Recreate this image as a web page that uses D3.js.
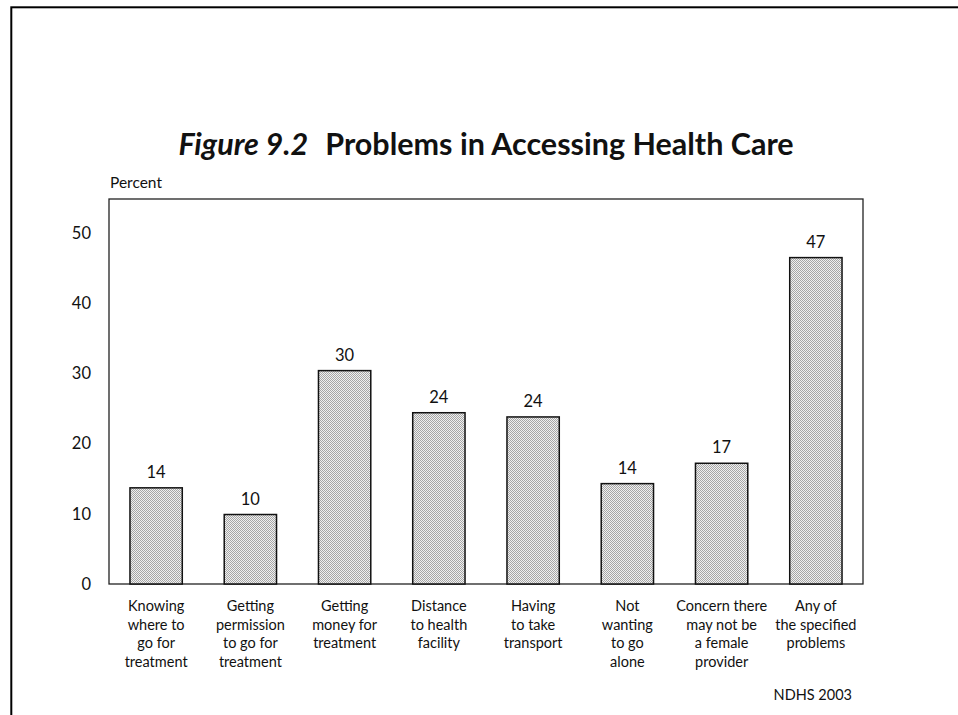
<!DOCTYPE html>
<html>
<head>
<meta charset="utf-8">
<script src="https://cdn.jsdelivr.net/npm/d3@7"></script>
<style>
  html, body { margin: 0; padding: 0; background: #fff; }
  svg { display: block; }
  text { font-family: Lato, "Open Sans", sans-serif; fill: #111; }
</style>
</head>
<body>
<svg id="chart" width="958" height="715"></svg>
<script>
const categories = [
  ["Knowing", "where to", "go for", "treatment"],
  ["Getting", "permission", "to go for", "treatment"],
  ["Getting", "money for", "treatment"],
  ["Distance", "to health", "facility"],
  ["Having", "to take", "transport"],
  ["Not", "wanting", "to go", "alone"],
  ["Concern there", "may not be", "a female", "provider"],
  ["Any of", "the specified", "problems"]
];
const values = [13.7, 9.9, 30.4, 24.4, 23.8, 14.3, 17.2, 46.5];
const valueLabels = ["14", "10", "30", "24", "24", "14", "17", "47"];
const yTicks = [0, 10, 20, 30, 40, 50];

const svg = d3.select("#chart");

// halftone pattern
const defs = svg.append("defs");
const pat = defs.append("pattern").attr("id", "dots")
  .attr("width", 2).attr("height", 2).attr("patternUnits", "userSpaceOnUse");
pat.append("rect").attr("width", 2).attr("height", 2).attr("fill", "#f0f0f0");
pat.append("rect").attr("x", 0).attr("y", 0).attr("width", 1).attr("height", 1).attr("fill", "#a6a6a6");
pat.append("rect").attr("x", 1).attr("y", 1).attr("width", 1).attr("height", 1).attr("fill", "#a6a6a6");

// outer frame
svg.append("rect").attr("x", 11.3).attr("y", 7.3).attr("width", 960).attr("height", 720)
  .attr("fill", "none").attr("stroke", "#000").attr("stroke-width", 2);

const pLeft = 109, pRight = 863, pTop = 199, pBottom = 584;

const x = d3.scaleBand().domain(d3.range(categories.length)).range([pLeft, pRight]).paddingInner(0.445).paddingOuter(0.2225);
const y = d3.scaleLinear().domain([0, 54.85]).range([pBottom, pTop]);

// title
const title = svg.append("text").attr("x", 486).attr("y", 155).attr("text-anchor", "middle")
  .style("font-size", "30.5px").style("font-weight", "bold");
title.append("tspan").style("font-style", "italic").text("Figure 9.2");
title.append("tspan").attr("dx", 17).text("Problems in Accessing Health Care");

// y axis label
svg.append("text").attr("x", 110).attr("y", 188).style("font-size", "15.5px").text("Percent");

// plot box
svg.append("rect").attr("x", pLeft).attr("y", pTop).attr("width", pRight - pLeft).attr("height", pBottom - pTop)
  .attr("fill", "none").attr("stroke", "#222").attr("stroke-width", 1.3);

// y axis
const yAxis = d3.axisLeft(y).tickValues(yTicks).tickSize(0).tickPadding(18);
const ya = svg.append("g").attr("transform", `translate(${pLeft},0)`).call(yAxis);
ya.select(".domain").remove();
ya.selectAll("text").style("font-size", "16.5px").style("font-family", "Lato, 'Open Sans', sans-serif").attr("fill", "#111");

// bars
svg.selectAll("rect.bar").data(values).join("rect").attr("class", "bar")
  .attr("x", (d, i) => x(i)).attr("width", x.bandwidth())
  .attr("y", d => y(d)).attr("height", d => y(0) - y(d))
  .attr("fill", "url(#dots)").attr("stroke", "#111").attr("stroke-width", 1.5);

// value labels
svg.selectAll("text.val").data(values).join("text").attr("class", "val")
  .attr("x", (d, i) => x(i) + x.bandwidth() / 2).attr("y", d => y(d) - 10)
  .attr("text-anchor", "middle").style("font-size", "16.5px")
  .text((d, i) => valueLabels[i]);

// category labels
const cat = svg.selectAll("text.cat").data(categories).join("text").attr("class", "cat")
  .attr("text-anchor", "middle").style("font-size", "14.5px")
  .attr("transform", (d, i) => `translate(${x(i) + x.bandwidth() / 2},611)`);
cat.selectAll("tspan").data(d => d).join("tspan")
  .attr("x", 0).attr("y", (d, j) => j * 18.7).text(d => d);

// source
svg.append("text").attr("x", 852).attr("y", 700).attr("text-anchor", "end")
  .style("font-size", "14.5px").text("NDHS 2003");
</script>
</body>
</html>
